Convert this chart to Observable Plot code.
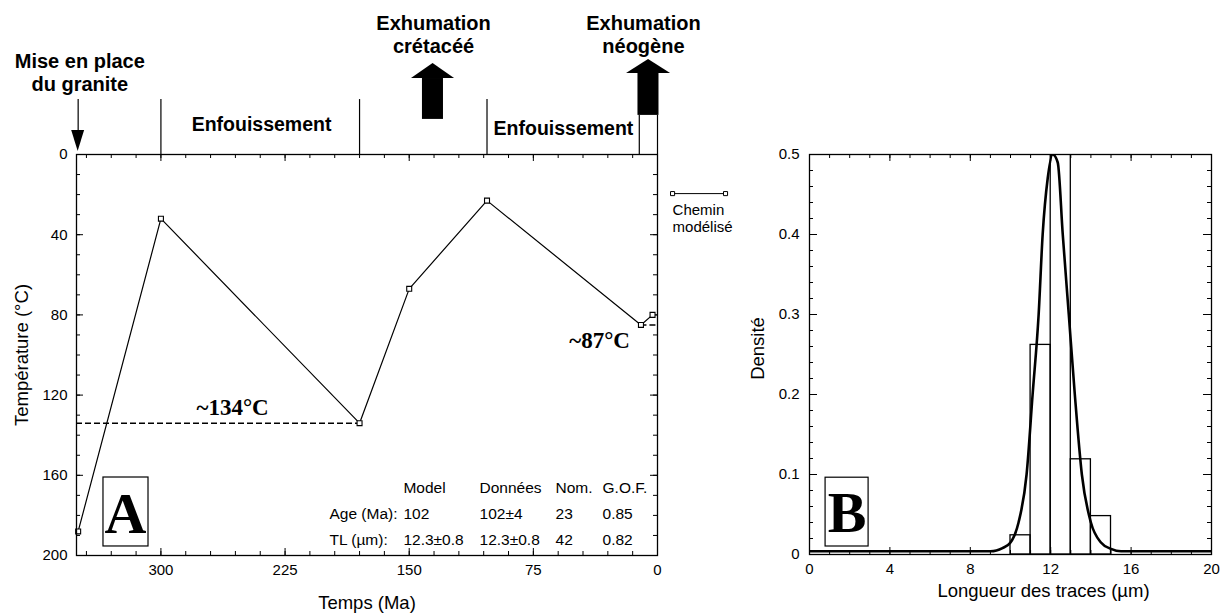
<!DOCTYPE html>
<html><head><meta charset="utf-8">
<script src="https://cdn.jsdelivr.net/npm/d3@7"></script>
<script src="https://cdn.jsdelivr.net/npm/@observablehq/plot@0.6"></script>
<style>
body{margin:0;background:#fff;}
#wrap{position:relative;width:1223px;height:614px;overflow:hidden;background:#fff;}
#a{position:absolute;left:0;top:0;}
#b{position:absolute;left:740px;top:0;}
</style></head><body><div id="wrap"><div id="a"></div><div id="b"></div></div>
<script>
// ---------------- Panel A data ----------------
const pathAge  = [350, 300, 180, 150, 103, 10, 3];
const pathTemp = [188, 32, 134, 67, 23, 85, 80];
const plateauTemps  = [134, 85];
const plateauLabels = ["~134°C", "~87°C"];
const ageTickLabels  = [300, 225, 150, 75, 0];
const tempTickLabels = [0, 40, 80, 120, 160, 200];
const ageMinorTicks  = [345, 330, 315, 300, 285, 270, 255, 240, 225, 210, 195, 180, 165, 150, 135, 120, 105, 90, 75, 60, 45, 30, 15, 0];
const tempMinorTicks = [0, 10, 20, 30, 40, 50, 60, 70, 80, 90, 100, 110, 120, 130, 140, 150, 160, 170, 180, 190, 200];
const phaseBounds = [300, 180, 103];
const neogeneBounds = [11, 0];
const phaseNames = ["Enfouissement", "Enfouissement"];
const eventNames = ["Mise en place\ndu granite", "Exhumation\ncrétacéé", "Exhumation\nnéogène"];
const tableHead = ["Model", "Données", "Nom.", "G.O.F."];
const tableAge  = ["Age (Ma):", "102", "102±4", "23", "0.85"];
const tableTL   = ["TL (µm):", "12.3±0.8", "12.3±0.8", "42", "0.82"];
const legendLabel = "Chemin\nmodélisé";

// ---------------- Panel B data ----------------
const binStart   = [10, 11, 12, 13, 14];
const binDensity = [0.024, 0.262, 0.548, 0.119, 0.048];
const curveLen  = [0, 9.0, 9.3, 9.6, 10.0, 10.4, 10.8, 11.1, 11.4, 11.6, 11.85, 12.1, 12.35, 12.6, 12.9, 13.2, 13.55, 14.0, 14.5, 15.0, 15.5, 20];
const curveDens = [0.004, 0.004, 0.005, 0.008, 0.015, 0.04, 0.1, 0.2, 0.3, 0.4, 0.47, 0.5, 0.49, 0.4, 0.3, 0.2, 0.1, 0.04, 0.015, 0.007, 0.004, 0.004];
const lenTickLabels = [0, 4, 8, 12, 16, 20];
const lenMinorTicks = [0,1,2,3,4,5,6,7,8,9,10,11,12,13,14,15,16,17,18,19,20];
const densTickLabels = [0, 0.1, 0.2, 0.3, 0.4, 0.5];
const densMinorTicks = [0,0.02,0.04,0.06,0.08,0.1,0.12,0.14,0.16,0.18,0.2,0.22,0.24,0.26,0.28,0.3,0.32,0.34,0.36,0.38,0.4,0.42,0.44,0.46,0.48,0.5];

const SANS = "'Liberation Sans', Arial, sans-serif";
const SERIF = "'Liberation Serif', 'Times New Roman', serif";
const baseStyle = {fontFamily: SANS, fontSize: "15px", color: "black", background: "white", overflow: "visible"};

// ---------------- Panel A ----------------
const path = pathAge.map((a, i) => ({age: a, temp: pathTemp[i]}));
const plateaus = [
  {t: plateauTemps[0], from: 351, to: pathAge[2]},
  {t: plateauTemps[1], from: pathAge[5], to: 0}
];
const tableCells = [];
tableHead.forEach((t, i) => tableCells.push({text: t, col: i + 1, row: 0}));
tableAge.forEach((t, i) => tableCells.push({text: t, col: i, row: 1}));
tableTL.forEach((t, i) => tableCells.push({text: t, col: i, row: 2}));
const tableColX = [198.2, 153.5, 107.5, 61.6, 33.2];
const tableRowY = [166.5, 179.3, 192.2];

const headA = (xl, xc, xr, yb, yt) => [{x: xl, y1: yb, y2: yb}, {x: xc, y1: yb, y2: yt}, {x: xr, y1: yb, y2: yb}];

const A = Plot.plot({
  width: 740, height: 614,
  marginLeft: 76, marginRight: 83, marginTop: 154, marginBottom: 59,
  x: {domain: [351, 0]},
  y: {domain: [200, 0]},
  style: baseStyle,
  marks: [
    // ticks (inward)
    Plot.ruleX(ageMinorTicks, {y1: 200, y2: 200, insetBottom: 4, stroke: "black"}),
    Plot.ruleX(ageTickLabels, {y1: 200, y2: 200, insetBottom: 7, stroke: "black"}),
    Plot.ruleX(ageMinorTicks, {y1: 0, y2: 0, insetTop: 4, stroke: "black"}),
    Plot.ruleX(ageTickLabels, {y1: 0, y2: 0, insetTop: 7, stroke: "black"}),
    Plot.ruleY(tempMinorTicks, {x1: 351, x2: 351, insetLeft: 4, stroke: "black"}),
    Plot.ruleY(tempTickLabels, {x1: 351, x2: 351, insetLeft: 7, stroke: "black"}),
    Plot.ruleY(tempMinorTicks, {x1: 0, x2: 0, insetRight: 4, stroke: "black"}),
    Plot.ruleY(tempTickLabels, {x1: 0, x2: 0, insetRight: 7, stroke: "black"}),
    Plot.axisX(ageTickLabels, {tickSize: 0, tickPadding: 9, fontSize: 15, label: null}),
    Plot.axisY(tempTickLabels, {tickSize: 0, tickPadding: 9, fontSize: 15, label: null}),
    Plot.text(["Temps (Ma)"], {frameAnchor: "bottom", dy: 48, textAnchor: "middle", lineAnchor: "middle", fontSize: 18.5}),
    Plot.text(["Température (°C)"], {frameAnchor: "left", dx: -54, rotate: -90, textAnchor: "middle", lineAnchor: "middle", fontSize: 18.5}),
    // plateau dashed lines
    Plot.ruleY(plateaus, {y: "t", x1: "from", x2: "to", stroke: "black", strokeWidth: 1.5, strokeDasharray: "6,3"}),
    Plot.text(plateauLabels, {x: [256.7, 35], y: [126.2, 92.8], text: d => d, fontFamily: SERIF, fontWeight: "bold", fontSize: 23, lineAnchor: "middle"}),
    // path
    Plot.line(path, {x: "age", y: "temp", stroke: "black", strokeWidth: 1.2}),
    Plot.dot(path, {x: "age", y: "temp", symbol: "square", r: 2.8, fill: "white", stroke: "black", strokeWidth: 1.1}),
    // A box
    Plot.rect([0], {x1: 334.7, x2: 307.5, y1: 161.1, y2: 195.5, fill: "none", stroke: "black", strokeWidth: 1.2}),
    Plot.text(["A"], {x: 321.4, y: 189, fontFamily: SERIF, fontWeight: "bold", fontSize: 58, lineAnchor: "bottom"}),
    // table
    Plot.text(tableCells, {x: d => tableColX[d.col], y: d => tableRowY[d.row], text: "text", textAnchor: "start", lineAnchor: "middle", fontSize: 15.5}),
    // legend
    Plot.line([{x: -9.1, y: 19.5}, {x: -41.1, y: 19.5}], {x: "x", y: "y", stroke: "black", strokeWidth: 1}),
    Plot.dot([{x: -9.1, y: 19.5}, {x: -41.1, y: 19.5}], {x: "x", y: "y", symbol: "square", r: 2.3, fill: "white", stroke: "black", strokeWidth: 1}),
    Plot.text([legendLabel], {x: -9.1, y: 24, textAnchor: "start", lineAnchor: "top", fontSize: 15, lineHeight: 1.13}),
    // top annotations: phase boundaries
    Plot.ruleX(phaseBounds, {y1: -27.4, y2: 0, stroke: "black", strokeWidth: 1.2}),
    Plot.ruleX(neogeneBounds, {y1: -19.5, y2: 0, stroke: "black", strokeWidth: 1.2}),
    Plot.text(phaseNames, {x: [239.2, 56.8], y: [-15, -13], text: d => d, fontWeight: "bold", fontSize: 19.5, lineAnchor: "middle"}),
    Plot.text(eventNames, {x: [349, 135.3, 8.5], y: [-41.2, -60.2, -60.2], text: d => d, fontWeight: "bold", fontSize: 20, lineAnchor: "middle", lineHeight: 1.15}),
    // granite arrow (down)
    Plot.ruleX([350], {y1: -27.4, y2: -12, stroke: "black", strokeWidth: 1.2}),
    Plot.areaY(headA(353.9, 350, 346.1, -12, -1.5), {x: "x", y1: "y1", y2: "y2", fill: "black"}),
    // cretaceous arrow (up)
    Plot.rect([0], {x1: 142, x2: 129.3, y1: -37.9, y2: -17.5, fill: "black"}),
    Plot.areaY(headA(148.6, 135.6, 122.6, -37.9, -45.4), {x: "x", y1: "y1", y2: "y2", fill: "black"}),
    // neogene arrow (up)
    Plot.rect([0], {x1: 11.8, x2: -0.9, y1: -40.4, y2: -19.5, fill: "black"}),
    Plot.areaY(headA(18.7, 5.4, -7.9, -40.4, -47.4), {x: "x", y1: "y1", y2: "y2", fill: "black"}),
    Plot.frame({stroke: "black", strokeWidth: 1.3})
  ]
});
document.getElementById("a").append(A);

// ---------------- Panel B ----------------
const bins = binStart.map((s, i) => ({x1: s, x2: s + 1, d: binDensity[i]}));
const curve = curveLen.map((l, i) => ({l, d: curveDens[i]}));
const B = Plot.plot({
  width: 483, height: 614,
  marginLeft: 69, marginRight: 12, marginTop: 154, marginBottom: 60,
  x: {domain: [0, 20]},
  y: {domain: [0, 0.5]},
  style: baseStyle,
  marks: [
    Plot.ruleX(lenMinorTicks, {y1: 0, y2: 0, insetBottom: 4, stroke: "black"}),
    Plot.ruleX(lenTickLabels, {y1: 0, y2: 0, insetBottom: 7, stroke: "black"}),
    Plot.ruleX(lenMinorTicks, {y1: 0.5, y2: 0.5, insetTop: 4, stroke: "black"}),
    Plot.ruleX(lenTickLabels, {y1: 0.5, y2: 0.5, insetTop: 7, stroke: "black"}),
    Plot.ruleY(densMinorTicks, {x1: 0, x2: 0, insetLeft: 4, stroke: "black"}),
    Plot.ruleY(densTickLabels, {x1: 0, x2: 0, insetLeft: 8, stroke: "black"}),
    Plot.ruleY(densMinorTicks, {x1: 20, x2: 20, insetRight: 4, stroke: "black"}),
    Plot.ruleY(densTickLabels, {x1: 20, x2: 20, insetRight: 8, stroke: "black"}),
    Plot.axisX(lenTickLabels, {tickSize: 0, tickPadding: 9, fontSize: 15, label: null}),
    Plot.axisY(densTickLabels, {tickSize: 0, tickPadding: 10, fontSize: 15, label: null, tickFormat: d => d === 0 ? "0" : d3.format(".1f")(d)}),
    Plot.text(["Longueur des traces (µm)"], {frameAnchor: "bottom", dx: 33, dy: 37, textAnchor: "middle", lineAnchor: "middle", fontSize: 18.5}),
    Plot.text(["Densité"], {frameAnchor: "left", dx: -51, dy: -6, rotate: -90, textAnchor: "middle", lineAnchor: "middle", fontSize: 18.5}),
    Plot.rect(bins, {x1: "x1", x2: "x2", y1: 0, y2: "d", fill: "none", stroke: "black", strokeWidth: 1.3, clip: true}),
    Plot.line(curve, {x: "l", y: "d", curve: "monotone-x", stroke: "black", strokeWidth: 2.6, clip: true}),
    Plot.rect([0], {x1: 0.8, x2: 2.94, y1: 0.01, y2: 0.096, fill: "none", stroke: "black", strokeWidth: 1.2}),
    Plot.text(["B"], {x: 1.87, y: 0.028, fontFamily: SERIF, fontWeight: "bold", fontSize: 58, lineAnchor: "bottom"}),
    Plot.frame({stroke: "black", strokeWidth: 1.3})
  ]
});
document.getElementById("b").append(B);
</script>
</body></html>
